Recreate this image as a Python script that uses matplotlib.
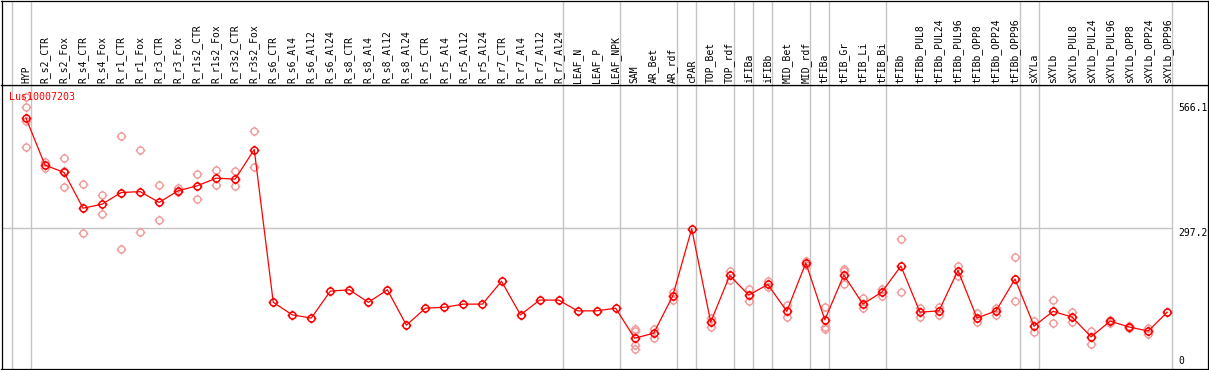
import numpy as np
import matplotlib
matplotlib.use('Agg')
import matplotlib.pyplot as plt
from matplotlib.path import Path

gene = 'Lus10007203'

labels = ['HYP',
          'R_s2_CTR', 'R_s2_Fox', 'R_s4_CTR', 'R_s4_Fox', 'R_r1_CTR', 'R_r1_Fox',
          'R_r3_CTR', 'R_r3_Fox', 'R_r1s2_CTR', 'R_r1s2_Fox', 'R_r3s2_CTR', 'R_r3s2_Fox',
          'R_s6_CTR', 'R_s6_Al4', 'R_s6_Al12', 'R_s6_Al24',
          'R_s8_CTR', 'R_s8_Al4', 'R_s8_Al12', 'R_s8_Al24',
          'R_r5_CTR', 'R_r5_Al4', 'R_r5_Al12', 'R_r5_Al24',
          'R_r7_CTR', 'R_r7_Al4', 'R_r7_Al12', 'R_r7_Al24',
          'LEAF_N', 'LEAF_P', 'LEAF_NPK',
          'SAM', 'AR_Bet', 'AR_rdf', 'cPAR', 'TOP_Bet', 'TOP_rdf', 'iFIBa', 'iFIBb',
          'MID_Bet', 'MID_rdf', 'tFIBa', 'tFIB_Gr', 'tFIB_Li', 'tFIB_Bi',
          'tFIBb', 'tFIBb_PUL8', 'tFIBb_PUL24', 'tFIBb_PUL96',
          'tFIBb_OPP8', 'tFIBb_OPP24', 'tFIBb_OPP96',
          'sXYLa', 'sXYLb', 'sXYLb_PUL8', 'sXYLb_PUL24', 'sXYLb_PUL96',
          'sXYLb_OPP8', 'sXYLb_OPP24', 'sXYLb_OPP96']

means = [543,
         438, 422, 342, 351, 377, 379, 355, 381, 392, 409, 407, 473,
         132, 104, 97, 157, 160, 132, 160, 81, 119, 121, 128, 128, 179, 104, 137, 137,
         113, 113, 119,
         52, 63, 146, 296, 88, 192, 148, 172, 112, 220, 93, 193, 128, 155,
         213, 110, 113, 203, 97, 113, 184,
         79, 112, 99, 55, 90, 77, 68, 110]

reps = [[590, 567, 537, 479],
        [444, 432], [453, 389, 424], [395, 286], [371, 328], [503, 250], [471, 288],
        [394, 316], [388, 378], [418, 363], [427, 393], [425, 391], [514, 434],
        [], [], [], [], [], [], [], [], [], [], [], [], [], [], [], [],
        [], [], [],
        [72, 68, 37, 28], [73, 52], [154, 137], [], [98, 78], [201, 182],
        [161, 134], [180, 166], [126, 99], [224, 216], [121, 78, 72],
        [207, 203, 173], [141, 119], [162, 147],
        [273, 155], [120, 100], [122, 103], [212, 191], [108, 89], [120, 104], [233, 135],
        [91, 66], [137, 85], [110, 88], [68, 40], [93, 87], [80, 74], [74, 61], []]

# last sample of each tissue group (a grey divider follows it)
group_ends = [-1, 0, 28, 31, 34, 35, 37, 38, 39, 41, 42, 45, 52, 53, 60]
scale_labels = ['566.1', '297.2', '0']
scale_values = [566.1, 297.2, 0]

W, H = 1209, 370
pitch, first = 19.02, 26.0       # px per sample, px of first sample
ppu, zero_px = 0.4482, 361.5      # px per unit, px of value 0
left_px, right_px, sep_px, bot_px = 1.5, 1208.3, 85.0, 368.7

def fx(px):
    return px / W

def fy(py):
    return 1 - py / H

def ix(px):
    return (px - first) / pitch

def vy(py):
    return (zero_px - py) / ppu

mono = 'DejaVu Sans Mono'
grey = '#c4c4c4'

fig = plt.figure(figsize=(W / 100, H / 100), dpi=100)
ax = fig.add_axes([fx(left_px), fy(bot_px), fx(right_px) - fx(left_px), fy(sep_px) - fy(bot_px)])
hd = fig.add_axes([fx(left_px), fy(sep_px), fx(right_px) - fx(left_px), fy(0.5) - fy(sep_px)],
                  sharex=ax)

ax.set_xlim(ix(left_px), ix(right_px))
ax.set_ylim(vy(bot_px), vy(sep_px))
hd.set_ylim(0, 1)

for a in (ax, hd):
    a.set_xticks([])
    a.set_yticks([])
    for s in a.spines.values():
        s.set_color('black')
        s.set_linewidth(0.9)

# circle marker with four small ticks
t = 1.4
circ = Path.unit_circle()
ticks = Path([(0, 1), (0, t), (0, -1), (0, -t), (1, 0), (t, 0), (-1, 0), (-t, 0)],
             [Path.MOVETO, Path.LINETO] * 4)
mk = Path.make_compound_path(circ, ticks)

x = np.arange(len(labels))

# dividers
for g in group_ends:
    ax.axvline(g + 0.24, color=grey, lw=1.0, zorder=0)
    hd.axvline(g + 0.24, color=grey, lw=1.0, zorder=0)
ax.hlines(scale_values[1], ix(left_px), group_ends[-1] + 0.24, color=grey, lw=1.0, zorder=0)

# replicates
rx = np.concatenate([[i] * len(r) for i, r in enumerate(reps)])
ry = np.concatenate([r for r in reps if r])
ax.plot(rx, ry, ls='none', marker=mk, ms=7, mfc='none', mec='#f09a9a', mew=1.0, zorder=2)

# means
ax.plot(x, means, color='red', lw=0.9, marker=mk, ms=7, mfc='none', mec='red', mew=1.1, zorder=3)

# sample names
for i, lab in enumerate(labels):
    hd.text(i, 0.02, lab, rotation=90, ha='center', va='bottom', fontsize=7, family=mono)

# scale on the right
for lab, v in zip(scale_labels, scale_values):
    va = 'top' if lab == '297.2' else 'center'
    ax.text(ix(1178.3), v, lab, ha='left', va=va, fontsize=7, family=mono)

ax.text(ix(9.3), vy(97.3), gene, color='red', ha='left', va='center', fontsize=7.2, family=mono)

fig.savefig('out.png', dpi=100)
